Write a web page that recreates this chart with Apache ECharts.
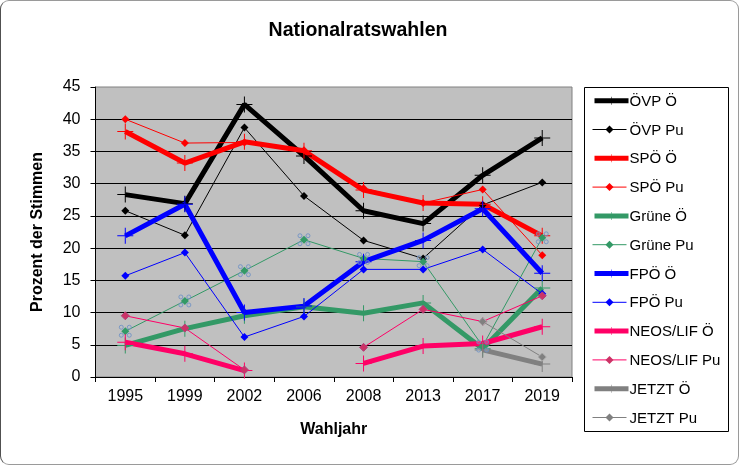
<!DOCTYPE html>
<html>
<head>
<meta charset="utf-8">
<script src="https://cdn.jsdelivr.net/npm/echarts@6/dist/echarts.min.js"></script>
<style>
  html, body { margin: 0; padding: 0; background: #ffffff; }
  #frame { position: absolute; left: 0; top: 0; width: 737px; height: 463px; border: 1px solid #9a9a9a; border-left-color: #505050; border-radius: 9px; overflow: hidden; background: #fff; }
  #chart { position: absolute; left: -1px; top: -1px; width: 739px; height: 466px; }
</style>
</head>
<body>
<div id="frame"><div id="chart"></div></div>
<script>
// ---- data ----
const categories = ['1995', '1999', '2002', '2006', '2008', '2013', '2017', '2019'];
const oevpO    = [28.3, 26.9, 42.3, 34.3, 25.8, 23.8, 31.3, 37.1];
const oevpPu   = [25.8, 22.0, 38.7, 28.1, 21.2, 18.4, 26.7, 30.2];
const spoeO    = [38.1, 33.2, 36.5, 35.1, 29.0, 27.0, 26.8, 21.9];
const spoePu   = [40.0, 36.3, 36.4, 35.2, 29.3, 27.0, 29.1, 18.9];
const grueneO  = [4.9, 7.5, 9.5, 10.9, 9.9, 11.5, 4.4, 13.8];
const gruenePu = [7.1, 11.8, 16.5, 21.3, 18.4, 17.9, 4.8, 21.6];
const fpoeO    = [21.9, 26.8, 10.0, 11.0, 17.9, 21.2, 26.1, 16.1];
const fpoePu   = [15.7, 19.3, 6.2, 9.4, 16.7, 16.7, 19.8, 12.9];
const neosO    = [5.4, 3.6, 1.0, null, 2.1, 4.8, 5.2, 7.8];
const neosPu   = [9.5, 7.6, 1.1, null, 4.6, 10.5, 8.6, 12.6];
const jetztO   = [null, null, null, null, null, null, 4.2, 2.0];
const jetztPu  = [null, null, null, null, null, null, 8.6, 3.1];
const yTicks = { min: 0, max: 45, step: 5 };

// ---- styling ----
const FONT = 'Liberation Sans, Arial, sans-serif';
const PLUS = 'path://M0,7.5H16V8.5H0Z M7.5,0H8.5V16H7.5Z';
const RINGS = 'path://M0,2a2,2 0 1,0 4,0a2,2 0 1,0 -4,0z M8,2a2,2 0 1,0 4,0a2,2 0 1,0 -4,0z M0,10a2,2 0 1,0 4,0a2,2 0 1,0 -4,0z M8,10a2,2 0 1,0 4,0a2,2 0 1,0 -4,0z';

function thick(name, data, color) {
  return {
    name, type: 'line', data, connectNulls: false,
    symbol: PLUS, symbolSize: 16, showSymbol: true,
    lineStyle: { width: 5, color },
    itemStyle: { color },
    emphasis: { disabled: true }
  };
}
function thin(name, data, color, markerColor, borderColor) {
  return {
    name, type: 'line', data, connectNulls: false,
    symbol: 'diamond', symbolSize: 8, showSymbol: true,
    lineStyle: { width: 1, color },
    itemStyle: { color: markerColor || color, borderColor: borderColor || markerColor || color, borderWidth: borderColor ? 1 : 0 },
    emphasis: { disabled: true }
  };
}

const series = [
  thick('ÖVP Ö', oevpO, '#000000'),
  thin('ÖVP Pu', oevpPu, '#000000'),
  thick('SPÖ Ö', spoeO, '#ff0000'),
  thin('SPÖ Pu', spoePu, '#ff0000'),
  thick('Grüne Ö', grueneO, '#339966'),
  thin('Grüne Pu', gruenePu, '#339966'),
  thick('FPÖ Ö', fpoeO, '#0000ff'),
  thin('FPÖ Pu', fpoePu, '#0000ff'),
  thick('NEOS/LIF Ö', neosO, '#ff0066'),
  thin('NEOS/LIF Pu', neosPu, '#ff0066', '#cc3366', '#b0407a'),
  thick('JETZT Ö', jetztO, '#808080'),
  thin('JETZT Pu', jetztPu, '#808080', '#808080', '#a8a8a8'),
  {
    name: 'Grüne Pu rings', type: 'scatter', data: gruenePu,
    symbol: RINGS, symbolSize: 12, z: 5,
    itemStyle: { color: 'rgba(180,190,205,0.35)', borderColor: '#6a8fc4', borderWidth: 1 },
    emphasis: { disabled: true }
  }
];
const legendNames = series.filter(s => s.type === 'line').map(s => s.name);

// legend box + legend labels (plain text so every label keeps normal weight)
const LEG_TOP = 101.7, LEG_STEP = 28.8, LEG_ITEM_H = 10;
const graphics = [{
  type: 'rect', z: -1, silent: true,
  shape: { x: 584.5, y: 87.5, width: 144, height: 344 },
  style: { fill: '#ffffff', stroke: '#000000', lineWidth: 1 }
}].concat(legendNames.map((n, i) => ({
  type: 'text', silent: true, z: 10,
  x: 629.5, y: LEG_TOP + i * LEG_STEP,
  style: { text: n, fontFamily: FONT, fontSize: 15, fontWeight: 'normal', fill: '#000', verticalAlign: 'middle', align: 'left' }
})));

// one legend component per row, so each icon sits exactly on its label's row
const legends = legendNames.map((n, i) => ({
  data: [n],
  orient: 'vertical', left: 592, top: LEG_TOP + i * LEG_STEP - LEG_ITEM_H / 2, padding: 0,
  itemWidth: 34, itemHeight: LEG_ITEM_H, itemGap: 0,
  selectedMode: false,
  lineStyle: { width: 'inherit' },
  itemStyle: { borderWidth: 0 },
  formatter: () => '',
  textStyle: { fontFamily: FONT, fontSize: 1, lineHeight: 1, color: '#000', padding: 0 }
}));

const chart = echarts.init(document.getElementById('chart'), null, { renderer: 'canvas' });
chart.setOption({
  animation: false,
  backgroundColor: 'transparent',
  textStyle: { fontFamily: FONT },
  title: {
    text: 'Nationalratswahlen', left: 353, top: 16, textAlign: 'center',
    textStyle: { fontFamily: FONT, fontSize: 19.5, fontWeight: 'bold', color: '#000' }
  },
  grid: {
    left: 95.5, right: 167, top: 87, bottom: 89,
    show: true, backgroundColor: '#c0c0c0', borderColor: '#808080', borderWidth: 1
  },
  legend: legends,
  graphic: graphics,
  xAxis: {
    type: 'category', data: categories, boundaryGap: true,
    name: 'Wahljahr', nameLocation: 'middle', nameGap: 45,
    nameTextStyle: { fontFamily: FONT, fontSize: 16, fontWeight: 'bold', color: '#000' },
    axisLine: { show: true, lineStyle: { color: '#000', width: 1 } },
    axisTick: { show: true, length: 5, lineStyle: { color: '#000' } },
    axisLabel: { fontFamily: FONT, fontSize: 16, color: '#000', margin: 12 },
    splitLine: { show: false }
  },
  yAxis: {
    type: 'value', min: yTicks.min, max: yTicks.max, interval: yTicks.step,
    name: 'Prozent der Stimmen', nameLocation: 'middle', nameGap: 50, nameRotate: 90,
    nameTextStyle: { fontFamily: FONT, fontSize: 16, fontWeight: 'bold', color: '#000' },
    axisLine: { show: true, lineStyle: { color: '#000', width: 1 } },
    axisTick: { show: true, length: 5, lineStyle: { color: '#000' } },
    axisLabel: { fontFamily: FONT, fontSize: 16, color: '#000', margin: 15 },
    splitLine: { show: true, showMaxLine: false, lineStyle: { color: '#000', width: 1 } }
  },
  tooltip: { show: false },
  series
});
</script>
</body>
</html>
